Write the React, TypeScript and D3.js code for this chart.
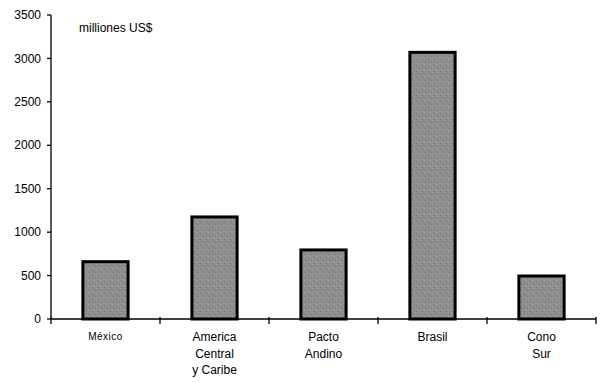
import React from "react";
import * as d3 from "d3";

const categories = ["México", "America\nCentral\ny Caribe", "Pacto\nAndino", "Brasil", "Cono\nSur"];
const values = [660, 1175, 795, 3070, 495];
const yTicks = [0, 500, 1000, 1500, 2000, 2500, 3000, 3500];
const unitLabel = "milliones US$";

const W = 600;
const H = 383;
const left = 51;
const right = 596;
const top = 15;
const bottom = 319;

export default function App() {
  const x = d3
    .scaleBand<string>()
    .domain(categories)
    .range([left, right])
    .paddingInner(0.585)
    .paddingOuter(0.2925);
  const y = d3.scaleLinear().domain([0, 3500]).range([bottom, top]);
  const step = x.step();
  const boundaries = d3.range(categories.length + 1).map((i) => left + i * step);

  return (
    <svg
      width={W}
      height={H}
      style={{ position: "absolute", left: 0, top: 0, background: "#fff" }}
      fontFamily="'Liberation Sans', Arial, Helvetica, sans-serif"
    >
      <defs>
        <pattern id="tex" width="6" height="6" patternUnits="userSpaceOnUse">
          <rect width="6" height="6" fill="#8c8c8c" />
          <rect x="0" y="0" width="1" height="1" fill="#a4a4a4" />
          <rect x="3" y="1" width="1" height="1" fill="#767676" />
          <rect x="1" y="3" width="1" height="1" fill="#9e9e9e" />
          <rect x="4" y="4" width="1" height="1" fill="#a8a8a8" />
          <rect x="5" y="2" width="1" height="1" fill="#7a7a7a" />
          <rect x="2" y="5" width="1" height="1" fill="#787878" />
          <rect x="0" y="3" width="6" height="1" fill="#959595" opacity="0.5" />
          <rect x="3" y="0" width="1" height="6" fill="#959595" opacity="0.5" />
        </pattern>
      </defs>
      <rect width={W} height={H} fill="#fff" />
      {/* bars */}
      {categories.map((c, i) => (
        <rect
          key={c}
          x={x(c)!}
          y={y(values[i])}
          width={x.bandwidth()}
          height={bottom - y(values[i])}
          fill="url(#tex)"
          stroke="#000"
          strokeWidth={3}
        />
      ))}
      {/* y axis */}
      <line x1={left} x2={left} y1={top} y2={bottom} stroke="#000" strokeWidth={1.3} />
      {yTicks.map((t) => (
        <g key={t}>
          <line x1={left - 4} x2={left} y1={y(t)} y2={y(t)} stroke="#000" strokeWidth={1.3} />
          <text x={41} y={y(t)} dy="0.35em" textAnchor="end" fontSize={12} fill="#000">
            {t}
          </text>
        </g>
      ))}
      {/* x axis */}
      <line x1={left} x2={right} y1={bottom} y2={bottom} stroke="#000" strokeWidth={1.3} />
      {boundaries.map((b, i) => (
        <line key={i} x1={b} x2={b} y1={bottom - 2} y2={bottom + 5} stroke="#000" strokeWidth={1.3} />
      ))}
      {categories.map((c, i) => {
        const lines = c.split("\n");
        const cx = x(c)! + x.bandwidth() / 2;
        const small = i === 0;
        return (
          <text
            key={c}
            x={cx}
            textAnchor="middle"
            fontSize={small ? 10 : 12}
            letterSpacing={small ? 0.5 : 0}
            fill="#000"
          >
            {lines.map((l, j) => (
              <tspan key={j} x={cx} y={(small ? 340 : 341) + j * 16.5}>
                {l}
              </tspan>
            ))}
          </text>
        );
      })}
      <text x={79} y={32} fontSize={12} fill="#000">
        {unitLabel}
      </text>
    </svg>
  );
}
